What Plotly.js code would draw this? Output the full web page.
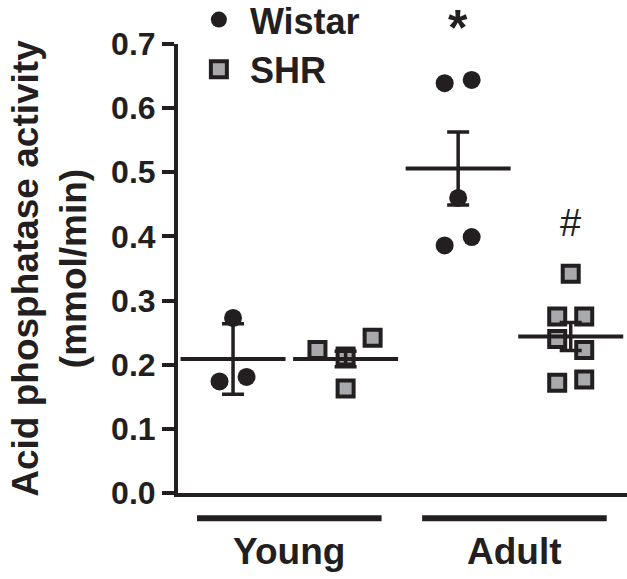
<!DOCTYPE html>
<html>
<head>
<meta charset="utf-8">
<script src="https://cdn.plot.ly/plotly-3.0.1.min.js"></script>
<style>
  html, body { margin: 0; padding: 0; background: white; }
  #chart { width: 627px; height: 579px; }
</style>
</head>
<body>
<div id="chart"></div>
<script>
// slots along x: 0 Young Wistar, 1 Young SHR, 2 Adult Wistar, 3 Adult SHR
var groupNames = ["Young", "Adult"];
var groupSlots = [[0, 1], [2, 3]];

var wistarSlot = [0, 0, 0, 2, 2, 2, 2, 2];
var wistarJitter = [0, -0.12, 0.12, -0.12, 0.12, 0, -0.12, 0.12];
var wistarValues = [0.273, 0.174, 0.181, 0.639, 0.644, 0.46, 0.386, 0.399];

var shrSlot = [1, 1, 1, 1, 3, 3, 3, 3, 3, 3, 3];
var shrJitter = [-0.25, 0.24, 0, 0, 0, -0.12, 0.12, -0.12, 0.12, -0.12, 0.12];
var shrValues = [0.223, 0.242, 0.213, 0.163, 0.342, 0.275, 0.275, 0.24, 0.223, 0.172, 0.177];

var meanSlot = [0, 1, 2, 3];
var meanValues = [0.209, 0.209, 0.506, 0.244];
var errValues = [0.055, 0.012, 0.057, 0.022];

// significance marks (height given in paper units, above the top of the axis for "*")
var markSlot = [2, 3];
var markText = ["*", "#"];
var markY = [1.036, 0.602];

var dark = "#231f20";
var grey = "#a7a9ac";
var font = "Liberation Sans, Arial, sans-serif";

function addJitter(slots, jitter) {
    return slots.map(function (s, i) { return s + jitter[i]; });
}

var wistarTrace = {
    x: addJitter(wistarSlot, wistarJitter),
    y: wistarValues,
    type: "scatter",
    mode: "markers",
    name: "Wistar",
    legendgroup: "w",
    marker: { symbol: "circle", size: 18, color: dark },
    cliponaxis: false,
};

var shrTrace = {
    x: addJitter(shrSlot, shrJitter),
    y: shrValues,
    type: "scatter",
    mode: "markers",
    name: "SHR",
    legendgroup: "s",
    marker: { symbol: "square", size: 16, color: grey, line: { color: dark, width: 4 } },
    cliponaxis: false,
};

var meanTrace = {
    x: meanSlot,
    y: meanValues,
    type: "scatter",
    mode: "markers",
    showlegend: false,
    marker: { symbol: "line-ew", size: 75, line: { color: dark, width: 4 } },
    error_y: { type: "data", array: errValues, visible: true, color: dark, thickness: 3.5, width: 11 },
};

var shapes = [];
var annotations = [];
groupNames.forEach(function (g, i) {
    var slots = groupSlots[i];
    var c = (slots[0] + slots[slots.length - 1]) / 2;
    shapes.push({
        type: "line", xref: "x", yref: "paper",
        x0: c - 0.82, x1: c + 0.82, y0: -0.056, y1: -0.056,
        line: { color: dark, width: 6 },
    });
    annotations.push({
        text: g, xref: "x", yref: "paper", x: c, y: -0.131,
        showarrow: false, yanchor: "middle",
        font: { family: font, size: 37, color: dark, weight: "bold" },
    });
});
markSlot.forEach(function (s, i) {
    var star = markText[i] == "*";
    annotations.push({
        text: markText[i], xref: "x", yref: "paper", x: s, y: markY[i],
        showarrow: false, yanchor: "middle",
        font: { family: font, size: star ? 50 : 38, color: dark, weight: star ? "bold" : "normal" },
    });
});

var layout = {
    width: 627,
    height: 579,
    margin: { l: 178, r: 0, t: 44, b: 86, pad: 0, autoexpand: false },
    paper_bgcolor: "white",
    plot_bgcolor: "white",
    font: { family: font, color: dark },
    showlegend: true,
    legend: {
        x: 0.022, y: 1.121, xanchor: "left", yanchor: "top",
        font: { family: font, size: 36, color: dark, weight: "bold" },
        bgcolor: "rgba(0,0,0,0)",
        itemwidth: 52,
        tracegroupgap: 11,
        traceorder: "normal",
    },
    xaxis: {
        range: [-0.489, 3.5],
        showticklabels: false,
        ticks: "",
        showgrid: false,
        zeroline: false,
        showline: true,
        linecolor: dark,
        linewidth: 4,
    },
    yaxis: {
        range: [0, 0.7],
        tickvals: [0, 0.1, 0.2, 0.3, 0.4, 0.5, 0.6, 0.7],
        tickformat: ".1f",
        ticks: "outside",
        ticklen: 12,
        tickwidth: 4,
        tickcolor: dark,
        showgrid: false,
        zeroline: false,
        showline: true,
        linecolor: dark,
        linewidth: 4,
        tickfont: { family: font, size: 32, color: dark, weight: "bold" },
        title: {
            text: "Acid phosphatase activity<br>(mmol/min)",
            font: { family: font, size: 37, color: dark, weight: "bold" },
            standoff: 14,
        },
    },
    shapes: shapes,
    annotations: annotations,
};

Plotly.newPlot("chart", [wistarTrace, shrTrace, meanTrace], layout, { displayModeBar: false });
</script>
</body>
</html>
